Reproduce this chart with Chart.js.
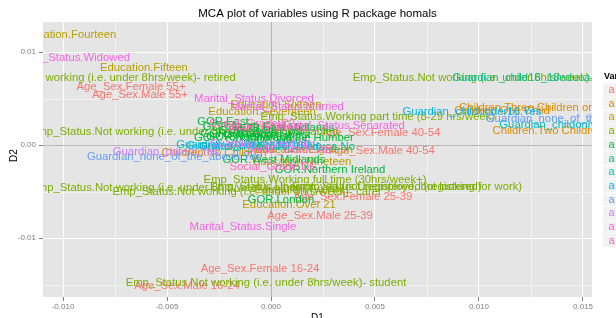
<!DOCTYPE html>
<html>
<head>
<meta charset="utf-8">
<script src="https://cdn.jsdelivr.net/npm/chart.js@4.4.1/dist/chart.umd.min.js"></script>
<style>
  html, body { margin: 0; padding: 0; background: #fff; }
  #mca { display: block; }
</style>
</head>
<body>
<canvas id="mca" width="616" height="318"></canvas>
<script>
// variables (legend order) and their hue colours
const variables = ['Age_Sex', 'Children', 'Education', 'Emp_Status', 'GOR',
  'Guardian_child16_18educa', 'Guardian_childonly', 'Guardian_childunder16',
  'Guardian_none_of_the_above', 'Guardian_parent', 'Marital_Status', 'Social_Grade'];
const palette = ['#F8766D', '#DE8C00', '#B79F00', '#7CAE00', '#00BA38', '#00C08B',
  '#00BFC4', '#00B4F0', '#619CFF', '#C77CFF', '#F564E3', '#FF64B0'];

// category levels, index of their variable, and coordinates on D1 / D2
const levelVar = [
  0,0,0,0,0,0,0,0,
  1,1,1,1,
  2,2,2,2,2,2,2,2,
  3,3,3,3,3,3,3,3,3,3,
  4,4,4,4,4,4,4,4,4,4,4,4,
  5,5, 6,6, 7,7, 8,8, 9,9,
  10,10,10,10,10,
  11,11,11,11
];
const levelName = [
  'Female 16-24', 'Female 25-39', 'Female 40-54', 'Female 55+',
  'Male 16-24', 'Male 25-39', 'Male 40-54', 'Male 55+',
  'No Children', 'One Child', 'Two Children', 'Three Children or more',
  'Fourteen', 'Fifteen', 'Sixteen', 'Seventeen', 'Eighteen', 'Nineteen', 'Twenty', 'Over 21',
  'Working full time (30hrs/week+)', 'Working part time (8-29 hrs/week)',
  'Unemployed (registered)', 'Unemployed (not registered, but looking for work)',
  'Not working (i.e. under 8hrs/week)- student', 'Not working (i.e. under 8hrs/week)- retired',
  'Not working (i.e. under 8hrs/week)- looking after home', 'Not working (i.e. under 8hrs/week)- sick/disabled',
  'Not working (i.e. under 8hrs/week)- other', 'Not working (i.e. under 8hrs/week)- carer',
  'East', 'East Midlands', 'London', 'North East', 'North West', 'Northern Ireland',
  'Scotland', 'South East', 'South West', 'Wales', 'West Midlands', 'Yorkshire and the Humber',
  'Yes', 'No', 'Yes', 'No', 'Yes', 'No', 'Yes', 'No', 'Yes', 'No',
  'Divorced', 'Married', 'Separated', 'Single', 'Widowed',
  'AB', 'C1', 'C2', 'DE'
];
const d1 = [
  -0.00053, 0.00394, 0.00529, -0.00673, -0.00404, 0.00236, 0.00534, -0.00630,
  -0.00274, 0.01111, 0.01332, 0.01293,
  -0.00981, -0.00611, 0.00024, -0.00043, 0.00159, 0.00149, 0.00135, 0.00087,
  0.00212, 0.00514, 0.00558, 0.00457, -0.00024, -0.00832, 0.01202, -0.00418, -0.00510, -0.00115,
  -0.00231, 0.00063, 0.00048, -0.00130, -0.00106, 0.00284, -0.00164, -0.00048, -0.00019, 0.00029, 0.00014, 0.00014,
  0.01255, 0.00029, 0.01380, -0.00183, 0.00966, -0.00082, -0.00466, 0.01442, -0.00505, -0.00048,
  -0.00082, 0.00077, 0.00337, -0.00135, -0.00971,
  0.00087, -0.00019, -0.00091, 0.00010
];
const d2 = [
  -0.01333, -0.00559, 0.00129, 0.00624, -0.01516, -0.00763, -0.00065, 0.00538,
  -0.00086, 0.00366, 0.00151, 0.00398,
  0.01183, 0.00828, 0.00430, 0.00355, -0.00054, -0.00183, -0.00484, -0.00645,
  -0.00376, 0.00301, -0.00452, -0.00452, -0.01484, 0.00720, 0.00720, 0.00140, -0.00462, -0.00505,
  0.00247, 0.00183, -0.00591, 0.00194, 0.00086, -0.00269, 0.00118, 0.00151, 0.00108, 0.00054, -0.00161, 0.00075,
  0.00720, -0.00022, 0.00215, 0.00000, 0.00355, -0.00011, -0.00129, 0.00280, -0.00075, 0.00011,
  0.00495, 0.00409, 0.00204, -0.00882, 0.00935,
  -0.00054, 0.00183, 0.00226, -0.00237
];

// axis ticks
const xTickValues = [-0.010, -0.005, 0.000, 0.005, 0.010, 0.015];
const xTickLabels = ['-0.010', '-0.005', '0.000', '0.005', '0.010', '0.015'];
const xMinorValues = [-0.0075, -0.0025, 0.0025, 0.0075, 0.0125];
const yTickValues = [0.01, 0.00, -0.01];
const yTickLabels = ['0.01', '0.00', '-0.01'];
const yMinorValues = [0.005, -0.005, -0.015];

const FONT = '"Liberation Sans", Arial, Helvetica, sans-serif';

const datasets = variables.map((name, v) => {
  const pts = [];
  levelVar.forEach((lv, i) => {
    if (lv === v) pts.push({ x: d1[i], y: d2[i], text: name + '.' + levelName[i] });
  });
  return { label: name, data: pts, pointRadius: 0, pointHoverRadius: 0, backgroundColor: palette[v], borderColor: palette[v] };
});

const mcaPlugin = {
  id: 'mcaPlugin',
  beforeDraw(chart){
    const { ctx, chartArea: a, scales: { x, y } } = chart;
    ctx.save();
    ctx.fillStyle = '#FFFFFF';
    ctx.fillRect(0, 0, chart.width, chart.height);
    ctx.fillStyle = '#E5E5E5';
    ctx.fillRect(a.left, a.top, a.right - a.left, a.bottom - a.top);
    ctx.strokeStyle = '#F2F2F2';
    ctx.lineWidth = 1;
    xMinorValues.forEach(v => {
      const px = Math.round(x.getPixelForValue(v)) + 0.5;
      ctx.beginPath(); ctx.moveTo(px, a.top); ctx.lineTo(px, a.bottom); ctx.stroke();
    });
    yMinorValues.forEach(v => {
      const py = Math.round(y.getPixelForValue(v)) + 0.5;
      ctx.beginPath(); ctx.moveTo(a.left, py); ctx.lineTo(a.right, py); ctx.stroke();
    });
    ctx.restore();
  },
  beforeDatasetsDraw(chart){
    // reference lines at 0
    const { ctx, chartArea: a, scales: { x, y } } = chart;
    ctx.save();
    ctx.strokeStyle = '#B5B5B5';
    ctx.lineWidth = 1;
    const px = Math.round(x.getPixelForValue(0)) + 0.5;
    const py = Math.round(y.getPixelForValue(0)) + 0.5;
    ctx.beginPath(); ctx.moveTo(px, a.top); ctx.lineTo(px, a.bottom); ctx.stroke();
    ctx.beginPath(); ctx.moveTo(a.left, py); ctx.lineTo(a.right, py); ctx.stroke();
    ctx.restore();
  },
  afterDatasetsDraw(chart){
    const { ctx, chartArea: a } = chart;
    ctx.save();
    ctx.beginPath();
    ctx.rect(a.left, a.top, a.right - a.left, a.bottom - a.top);
    ctx.clip();
    ctx.font = '11.3px ' + FONT;
    ctx.textAlign = 'center';
    ctx.textBaseline = 'middle';
    chart.data.datasets.forEach((ds, di) => {
      const meta = chart.getDatasetMeta(di);
      ctx.fillStyle = palette[di];
      meta.data.forEach((el, i) => {
        ctx.fillText(ds.data[i].text, el.x, el.y);
      });
    });
    ctx.restore();
  },
  afterDraw(chart){
    const { ctx, chartArea: a } = chart;
    ctx.save();
    // title
    ctx.fillStyle = '#000000';
    ctx.font = '11.5px ' + FONT;
    ctx.textAlign = 'center';
    ctx.textBaseline = 'middle';
    ctx.fillText('MCA plot of variables using R package homals', (a.left + a.right) / 2, 14);
    // axis titles
    ctx.font = '10px ' + FONT;
    ctx.textBaseline = 'alphabetic';
    ctx.fillText('D1', (a.left + a.right) / 2, 321);
    ctx.save();
    ctx.translate(17, (a.top + a.bottom) / 2 - 4);
    ctx.rotate(-Math.PI / 2);
    ctx.fillText('D2', 0, 0);
    ctx.restore();
    // legend
    ctx.textAlign = 'left';
    ctx.font = 'bold 9px ' + FONT;
    ctx.fillText('Variable', 604, 79);
    variables.forEach((name, i) => {
      const cy = 90 + i * 13.7;
      ctx.fillStyle = '#F2F2F2';
      ctx.fillRect(603, cy - 6.5, 17, 13);
      ctx.fillStyle = palette[i];
      ctx.font = '11px ' + FONT;
      ctx.textAlign = 'center';
      ctx.textBaseline = 'middle';
      ctx.fillText('a', 611.5, cy);
      ctx.fillStyle = '#000000';
      ctx.font = '9px ' + FONT;
      ctx.textAlign = 'left';
      ctx.fillText(name, 624, cy);
    });
    ctx.restore();
  }
};

new Chart(document.getElementById('mca'), {
  type: 'scatter',
  data: { datasets },
  options: {
    responsive: false,
    animation: false,
    devicePixelRatio: 1,
    layout: { padding: { left: 0, right: 24, top: 22, bottom: 0 } },
    plugins: { legend: { display: false }, tooltip: { enabled: false }, title: { display: false } },
    scales: {
      x: {
        type: 'linear', min: -0.010962, max: 0.015433,
        afterBuildTicks: s => { s.ticks = xTickValues.map(v => ({ value: v })); },
        afterFit: s => { s.height = 21; },
        ticks: { callback: (v, i) => xTickLabels[i], color: '#7F7F7F', font: { family: FONT, size: 8 }, padding: 1, maxRotation: 0, autoSkip: false },
        grid: { color: '#FFFFFF', lineWidth: 1, tickColor: '#7F7F7F', tickLength: 4 },
        border: { display: false }
      },
      y: {
        type: 'linear', min: -0.016344, max: 0.013226,
        afterBuildTicks: s => { s.ticks = yTickValues.map(v => ({ value: v })); },
        afterFit: s => { s.width = 43; },
        ticks: { callback: (v, i) => yTickLabels[i], color: '#7F7F7F', font: { family: FONT, size: 8 }, padding: 3, autoSkip: false },
        grid: { color: '#FFFFFF', lineWidth: 1, tickColor: '#7F7F7F', tickLength: 4 },
        border: { display: false }
      }
    }
  },
  plugins: [mcaPlugin]
});
</script>
</body>
</html>
